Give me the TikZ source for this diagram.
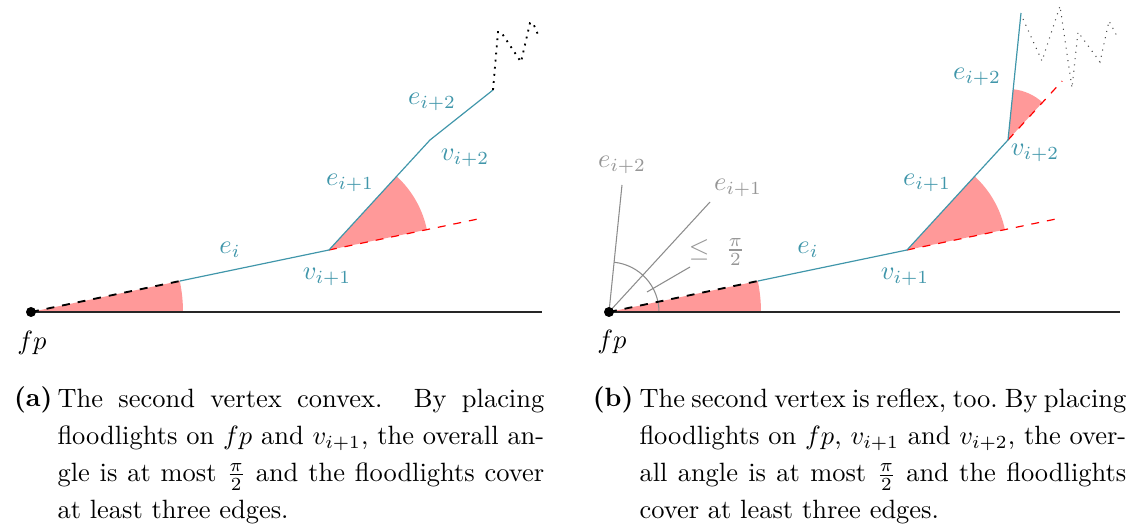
\documentclass[tikz,border=0pt]{standalone}
\usepackage{amsmath}
\usetikzlibrary{calc}
\definecolor{edgecol}{RGB}{64,150,170}
\definecolor{ghostcol}{RGB}{140,140,140}
\definecolor{ghosttxt}{RGB}{150,150,150}
\tikzset{
  edgeline/.style={edgecol, line width=0.45pt},
  lbl/.style={text=edgecol, inner sep=0pt},
  sector/.style={fill=red!40, draw=none},
  ext/.style={red, dashed, line width=0.45pt},
  ray/.style={black, dashed, line width=0.7pt},
  baseln/.style={black!85, line width=0.7pt},
  zigA/.style={black, dotted, line width=0.7pt},
  zigB/.style={black!70, dotted, line width=0.4pt},
  ghost/.style={ghostcol, line width=0.4pt},
  glbl/.style={text=ghosttxt, inner sep=0pt},
  captext/.style={inner sep=0pt, text width=184pt, align=justify, anchor=north west,
    font={\fontsize{10}{14}\selectfont}},
  caplabel/.style={inner sep=0pt, font=\bfseries, anchor=base east},
}
\begin{document}
\begin{tikzpicture}[x=0.378pt,y=0.378pt]
\useasboundingbox (0,0) rectangle (1137,531);
% ---------------- panel (a) ----------------
\coordinate (fpA) at (31,219);
\coordinate (v1A) at (329,281);
\coordinate (v2A) at (430,391);
\coordinate (v3A) at (493,441);
\coordinate (hA) at (542,219);
\coordinate (rA) at ($(fpA)+(11.75:152)$);
\fill[sector] (fpA) -- ++(0:152) arc[start angle=0, end angle=11.75, radius=152] -- cycle;
\fill[sector] (v1A) -- ++(11.75:100) arc[start angle=11.75, end angle=47.44, radius=100] -- cycle;
\draw[baseln] (fpA) -- (hA);
\draw[ext] (v1A) -- ++(11.75:153);
\draw[ray] (fpA) -- (rA);
\draw[edgeline] (rA) -- (v1A) -- (v2A) -- (v3A);
\draw[zigA] (v3A) -- (498,499) -- (501,499) -- (521,469) -- (530,508) -- (533,508) -- (539,494);
\fill (fpA) circle[radius=5];
\node[lbl] (eiA) at (230,281) {$e_i$};
\node[lbl] (vaA) at (327,254) {$v_{i+1}$};
\node[lbl] (eaA) at (350,348) {$e_{i+1}$};
\node[lbl] (vbA) at (465,373) {$v_{i+2}$};
\node[lbl] (ebA) at (432,429) {$e_{i+2}$};
\node[inner sep=0pt] (fplA) at (32,188) {$fp$};
% ---------------- panel (b) ----------------
\coordinate (fpB) at (609,219);
\coordinate (v1B) at (907,281);
\coordinate (v2B) at (1008,391);
\coordinate (v3B) at (1021,518);
\coordinate (hB) at (1120,219);
\coordinate (rB) at ($(fpB)+(11.75:152)$);
\coordinate (g1B) at ($(fpB)+(v2B)-(v1B)$);
\coordinate (g2B) at ($(fpB)+(v3B)-(v2B)$);
\coordinate (p1B) at (647,239);
\coordinate (p2B) at (690,264);
\fill[sector] (fpB) -- ++(0:152) arc[start angle=0, end angle=11.75, radius=152] -- cycle;
\fill[sector] (v1B) -- ++(11.75:100) arc[start angle=11.75, end angle=47.44, radius=100] -- cycle;
\fill[sector] (v2B) -- ++(47.44:51) arc[start angle=47.44, end angle=84.16, radius=51] -- cycle;
\draw[ghost] (fpB) -- (g1B);
\draw[ghost] (fpB) -- (g2B);
\draw[ghost] (fpB) ++(0:50) arc[start angle=0, end angle=84.16, radius=50];
\draw[ghost] (p1B) -- (p2B);
\draw[baseln] (fpB) -- (hB);
\draw[ext] (v1B) -- ++(11.75:151);
\draw[ext] (v2B) -- ++(47.44:80);
\draw[ray] (fpB) -- (rB);
\draw[edgeline] (rB) -- (v1B) -- (v2B) -- (v3B);
\draw[zigB] (1023,512) -- (1042,470) -- (1060,525) -- (1072,443) -- (1078,499) -- (1100,469) -- (1109,510) -- (1118,493);
\fill (fpB) circle[radius=5];
\node[lbl] (eiB) at (808,281) {$e_i$};
\node[lbl] (vaB) at (905,254) {$v_{i+1}$};
\node[lbl] (eaB) at (927,348) {$e_{i+1}$};
\node[lbl] (vbB) at (1035,378) {$v_{i+2}$};
\node[lbl] (ebB) at (977,454) {$e_{i+2}$};
\node[inner sep=0pt] (fplB) at (612,189) {$fp$};
\node[glbl] (gebB) at (622,366) {$e_{i+2}$};
\node[glbl] (geaB) at (738,343) {$e_{i+1}$};
\node[glbl] (leqB) at (717,279) {$\leq\ \frac{\pi}{2}$};
% ---------------- captions ----------------
\node[caplabel] (labA) at (53,124) {(a)};
\node[captext] (capA) at (57,142.4) {The second vertex convex. By placing\linebreak
floodlights on $fp$ and $v_{i+1}$, the overall an-\linebreak
gle is at most $\frac{\pi}{2}$ and the floodlights cover\linebreak
at least three edges.};
\node[caplabel] (labB) at (634,124) {(b)};
\node[captext] (capB) at (639,142.4) {\spaceskip=3.33pt plus 1.67pt minus 2.2pt\relax
\xspaceskip=3.6pt plus 2pt minus 2.2pt\relax
The second vertex is reflex, too. By placing\linebreak
floodlights on $fp$, $v_{i+1}$ and $v_{i+2}$, the over-\linebreak
all angle is at most $\frac{\pi}{2}$ and the floodlights\linebreak
cover at least three edges.};
\end{tikzpicture}
\end{document}
